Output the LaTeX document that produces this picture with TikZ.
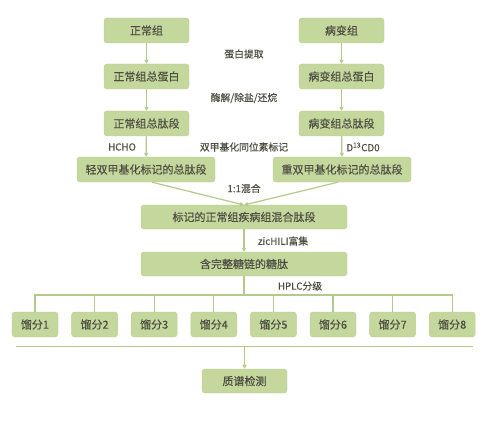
\documentclass[tikz,border=0pt]{standalone}
\usepackage{fontspec}
\setmainfont{Noto Sans CJK SC}
\newfontfamily\boxfont{Noto Sans CJK SC}[FakeBold=0.35]
\usetikzlibrary{arrows.meta}
\definecolor{boxfill}{HTML}{C4D79D}
\definecolor{boxedge}{HTML}{B9CF90}
\definecolor{linec}{HTML}{B3CA8A}
\definecolor{txt}{HTML}{4E4E42}
\begin{document}
\begin{tikzpicture}[x=1pt,y=-1pt,
  box/.style={draw=boxedge,fill=boxfill,rounded corners=3pt,inner sep=0pt,text=txt,font=\boxfont\fontsize{11}{12}\selectfont},
  lbl/.style={text=txt,font=\boxfont\fontsize{9.8}{11}\selectfont,inner sep=0pt},
  conn/.style={draw=linec,line width=1.2pt},
  arr/.style={conn,-{Triangle[width=4pt,length=4pt]}}]
\useasboundingbox (0,0) rectangle (502,422);
% top boxes
\node[box,minimum width=85pt,minimum height=25pt] (a1) at (146.5,30.5) {正常组};
\node[box,minimum width=85pt,minimum height=25pt] (b1) at (341.5,30.5) {病变组};
\node[box,minimum width=85pt,minimum height=25pt] (a2) at (146.5,76.5) {正常组总蛋白};
\node[box,minimum width=85pt,minimum height=25pt] (b2) at (341.5,76.5) {病变组总蛋白};
\node[box,minimum width=85pt,minimum height=25pt] (a3) at (146.5,123.5) {正常组总肽段};
\node[box,minimum width=85pt,minimum height=25pt] (b3) at (341.5,123.5) {病变组总肽段};
\node[box,minimum width=138pt,minimum height=25pt] (a4) at (146,169.5) {轻双甲基化标记的总肽段};
\node[box,minimum width=138pt,minimum height=25pt] (b4) at (342,169.5) {重双甲基化标记的总肽段};
\node[box,minimum width=206pt,minimum height=24pt] (m) at (244,217) {标记的正常组疾病组混合肽段};
\node[box,minimum width=206pt,minimum height=24pt] (g) at (244,264) {含完整糖链的糖肽};
% labels
\node[lbl] (l1) at (244,54) {蛋白提取};
\node[lbl] (l2) at (244,98) {酶解/除盐/还烷};
\node[lbl] (l3) at (244,147) {双甲基化同位素标记};
\node[lbl] (l4) at (122,147) {HCHO};
\node[lbl] (l5) at (363,147) {D\textsuperscript{13}CD0};
\node[lbl] (l6) at (244,188.5) {1:1混合};
\node[lbl] (l7) at (283,241) {zicHILI富集};
\node[lbl] (l8) at (300,286) {HPLC分级};
% arrows
\draw[arr] (a1) -- (a2);
\draw[arr] (b1) -- (b2);
\draw[arr] (a2) -- (a3);
\draw[arr] (b2) -- (b3);
\draw[arr] (a3) -- (a4);
\draw[arr] (b3) -- (b4);
\coordinate (mt) at (244,205);
\draw[arr] (a4.south) ++(6,0) coordinate (a4s) -- (mt);
\draw[arr] (b4.south) ++(-4,0) coordinate (b4s) -- (mt);
\draw[arr] (m) -- (g);
% fractions
\coordinate (bus) at (244,295);
\draw[conn] (g.south) -- (bus);
\foreach \i/\x in {1/35,2/94.6,3/154.2,4/213.8,5/273.4,6/333,7/392.6,8/452.2}{
  \node[box,minimum width=46pt,minimum height=25pt] (f\i) at (\x,324.5) {馏分\i};
}
\draw[conn] (f1.north) |- (bus) -| (f8.north);
\foreach \i in {2,...,7}{ \draw[conn] (f\i.north) -- (f\i.north |- bus); }
\coordinate (hl) at (16,346);
\coordinate (hr) at (473,346);
\draw[draw=linec,line width=0.9pt] (hl) -- (hr);
\node[box,minimum width=85pt,minimum height=24pt] (ms) at (244.5,381) {质谱检测};
\draw[arr] (ms.north |- hl) -- (ms);
\end{tikzpicture}
\end{document}
